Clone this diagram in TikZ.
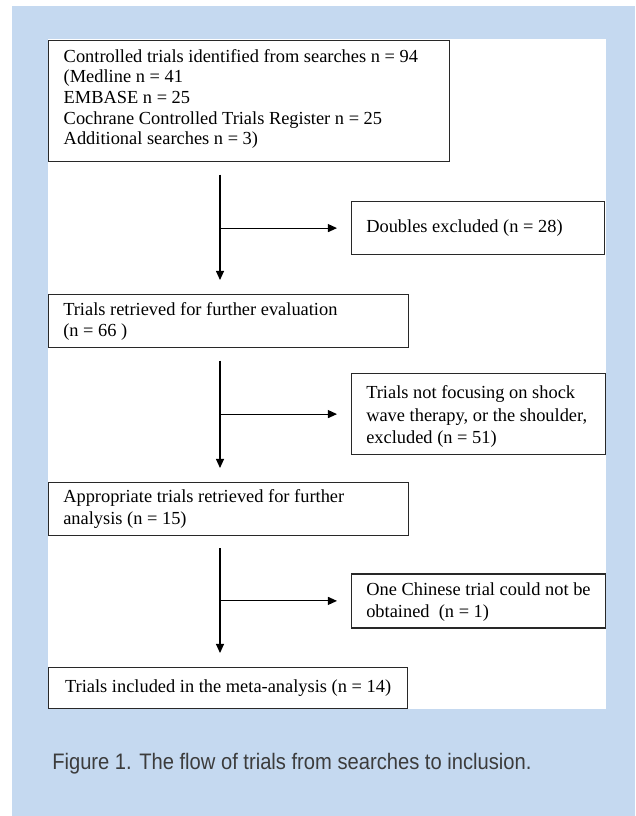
\documentclass[tikz,border=0pt]{standalone}
\usepackage{fontspec}
\setmainfont{Liberation Serif}
\newfontfamily\capfont[FakeStretch=0.9]{Liberation Sans}
\usetikzlibrary{arrows.meta}
\definecolor{bgblue}{RGB}{197,217,240}
\definecolor{capgray}{RGB}{60,60,60}
\definecolor{boxline}{RGB}{40,40,40}
\begin{document}
\begin{tikzpicture}[x=0.75pt,y=-0.75pt,
  box/.style={draw=boxline, line width=0.9pt, fill=white, inner sep=0pt, anchor=north west},
  txt/.style={inner sep=0pt, align=left, text=black},
  arr/.style={draw=black, line width=0.8pt, -{Triangle[length=6.8pt,width=6pt]}},
  vline/.style={arr, shorten <=9.4pt, shorten >=10.5pt},
  hline/.style={arr, shorten >=10.5pt}]
\useasboundingbox (0,0) rectangle (635,816);
\fill[bgblue] (12,6) rectangle (635,816);
\fill[white] (48,39.5) rectangle (606,709);
% boxes
\node[box, minimum width=300.75pt, minimum height=90.75pt] (b1) at (48,40) {};
\node[box, minimum width=189.75pt, minimum height=39.75pt] (d1) at (351,201) {};
\node[box, minimum width=270pt, minimum height=39.75pt] (b2) at (48,294) {};
\node[box, minimum width=190.5pt, minimum height=60.75pt] (d2) at (351,373) {};
\node[box, minimum width=270pt, minimum height=39.4pt] (b3) at (48,482) {};
\node[box, minimum width=190.5pt, minimum height=40.5pt] (d3) at (351,573.3) {};
\node[box, minimum width=269.25pt, minimum height=30.75pt] (b4) at (48,667) {};
% texts
\node[txt, anchor=north west, font=\fontsize{13.8}{15.5}\selectfont] (t1) at ([xshift=11.6pt,yshift=-6.6pt]b1.north west)
  {Controlled trials identified from searches n = 94\\(Medline n = 41\\EMBASE n = 25\\Cochrane Controlled Trials Register n = 25\\Additional searches n = 3)};
\node[txt, anchor=west, font=\fontsize{13.8}{16}\selectfont] (td1) at ([xshift=11.25pt]d1.west)
  {Doubles excluded (n = 28)};
\node[txt, anchor=west, font=\fontsize{13.8}{15.75}\selectfont] (t2) at ([xshift=11.25pt]b2.west)
  {Trials retrieved for further evaluation\\(n = 66 )};
\node[txt, anchor=west, font=\fontsize{13.8}{16.95}\selectfont] (td2) at ([xshift=11.25pt,yshift=-1.9pt]d2.west)
  {Trials not focusing on shock\\wave therapy, or the shoulder,\\excluded (n = 51)};
\node[txt, anchor=west, font=\fontsize{13.8}{16}\selectfont] (t3) at ([xshift=11.25pt]b3.west)
  {Appropriate trials retrieved for further\\analysis (n = 15)};
\node[txt, anchor=west, font=\fontsize{13.8}{16.5}\selectfont] (td3) at ([xshift=11.25pt,yshift=-1.1pt]d3.west)
  {One Chinese trial could not be\\obtained\ \ (n = 1)};
\node[txt, anchor=center, font=\fontsize{13.8}{16}\selectfont] (t4) at (b4.center)
  {Trials included in the meta-analysis (n = 14)};
% caption
\node[anchor=base west, inner sep=0pt, font=\capfont\fontsize{16.8}{20}\selectfont, text=capgray] (cap) at (52,769)
  {Figure 1. The flow of trials from searches to inclusion.};
% connectors
\coordinate (col) at (220,0);
\draw[vline] (b1.south -| col) -- (b2.north -| col);
\draw[hline] (d1.west -| col) -- (d1.west);
\draw[vline] (b2.south -| col) -- (b3.north -| col);
\draw[hline] (d2.west -| col) -- (d2.west);
\draw[vline] (b3.south -| col) -- (b4.north -| col);
\draw[hline] (d3.west -| col) -- (d3.west);
\end{tikzpicture}
\end{document}
